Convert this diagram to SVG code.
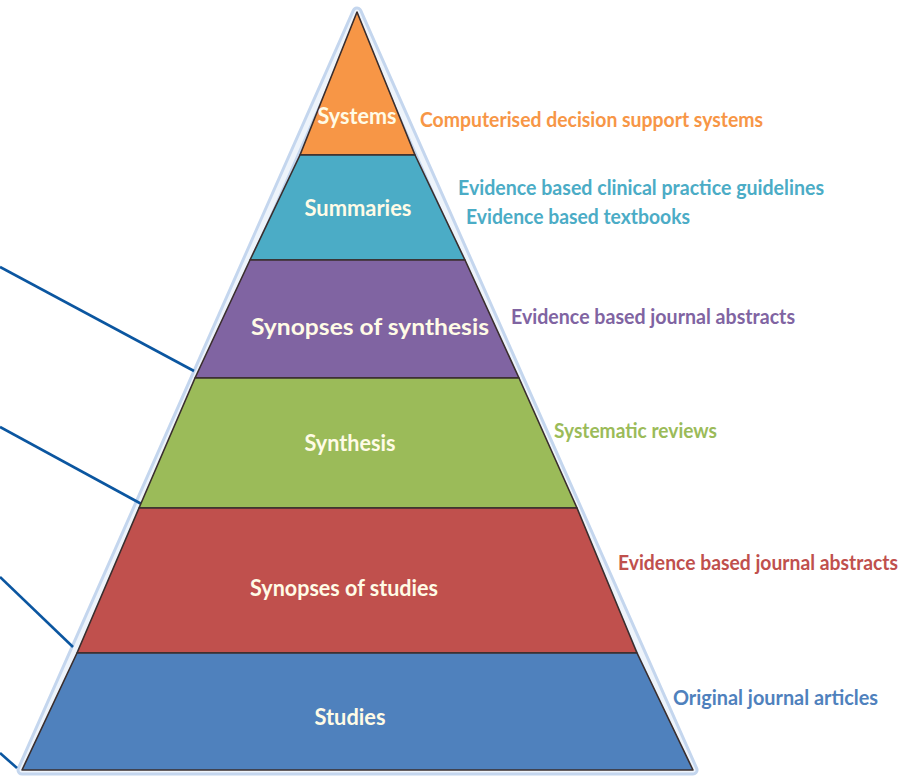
<svg xmlns="http://www.w3.org/2000/svg" width="916" height="780" viewBox="0 0 916 780">
<style>
.band{stroke:#3a2e2e;stroke-width:1.6;stroke-linejoin:round}
.bl{font-family:Lato,"Open Sans","Liberation Sans",sans-serif;font-weight:bold;font-size:23px;fill:#fffbe6;text-anchor:middle}
.rl{font-family:Lato,"Open Sans","Liberation Sans",sans-serif;font-weight:bold;font-size:21px;stroke:#ffffff;stroke-width:3.5;paint-order:stroke;stroke-linejoin:round}
.conn{stroke:#0b56a0;stroke-width:2.6;fill:none}
</style>
<rect width="916" height="780" fill="#ffffff"/>
<g id="glow">
<polygon points="357,12 693,770 22,770" fill="none" stroke="#c4d6ee" stroke-width="11" stroke-linejoin="round"/>
<polygon points="357,12 693,770 22,770" fill="none" stroke="#eef4fb" stroke-width="5" stroke-linejoin="round"/>
</g>
<g id="connectors">
<line class="conn" x1="0" y1="267" x2="194" y2="371"/>
<line class="conn" x1="0" y1="427" x2="147" y2="507"/>
<line class="conn" x1="0" y1="577" x2="73" y2="647"/>
<line class="conn" x1="0" y1="753" x2="17" y2="768"/>
</g>
<g id="systems">
<polygon class="band" fill="#f79646" points="357,12 415,155 300,155"/>
<text class="bl" x="357" y="124" font-size="21" textLength="79" lengthAdjust="spacingAndGlyphs">Systems</text>
</g>
<g id="summaries">
<polygon class="band" fill="#4bacc6" points="300,155 415,155 465,260 250,260"/>
<text class="bl" x="358" y="216" textLength="107" lengthAdjust="spacingAndGlyphs">Summaries</text>
</g>
<g id="synopses-of-synthesis">
<polygon class="band" fill="#8064a2" points="250,260 465,260 519,378 195,378"/>
<text class="bl" x="370" y="335" textLength="238" lengthAdjust="spacingAndGlyphs">Synopses of synthesis</text>
</g>
<g id="synthesis">
<polygon class="band" fill="#9bbb59" points="195,378 519,378 577,508 139,508"/>
<text class="bl" x="350" y="451" textLength="91" lengthAdjust="spacingAndGlyphs">Synthesis</text>
</g>
<g id="synopses-of-studies">
<polygon class="band" fill="#c0504d" points="139,508 577,508 637,653 77,653"/>
<text class="bl" x="344" y="596" textLength="188" lengthAdjust="spacingAndGlyphs">Synopses of studies</text>
</g>
<g id="studies">
<polygon class="band" fill="#4f81bd" points="77,653 637,653 693,770 22,770"/>
<text class="bl" x="350" y="725" textLength="71" lengthAdjust="spacingAndGlyphs">Studies</text>
</g>
<g id="labels">
<text class="rl" fill="#f79646" x="420" y="127" textLength="343" lengthAdjust="spacingAndGlyphs">Computerised decision support systems</text>
<text class="rl" fill="#4bacc6" x="458" y="195" textLength="366" lengthAdjust="spacingAndGlyphs">Evidence based clinical practice guidelines</text>
<text class="rl" fill="#4bacc6" x="466" y="224" textLength="224" lengthAdjust="spacingAndGlyphs">Evidence based textbooks</text>
<text class="rl" fill="#8064a2" x="511" y="324" textLength="284" lengthAdjust="spacingAndGlyphs">Evidence based journal abstracts</text>
<text class="rl" fill="#9bbb59" x="554" y="438" textLength="163" lengthAdjust="spacingAndGlyphs">Systematic reviews</text>
<text class="rl" fill="#c0504d" x="618" y="570" font-size="19" textLength="280" lengthAdjust="spacingAndGlyphs">Evidence based journal abstracts</text>
<text class="rl" fill="#4f81bd" x="673" y="705" textLength="205" lengthAdjust="spacingAndGlyphs">Original journal articles</text>
</g>
</svg>
